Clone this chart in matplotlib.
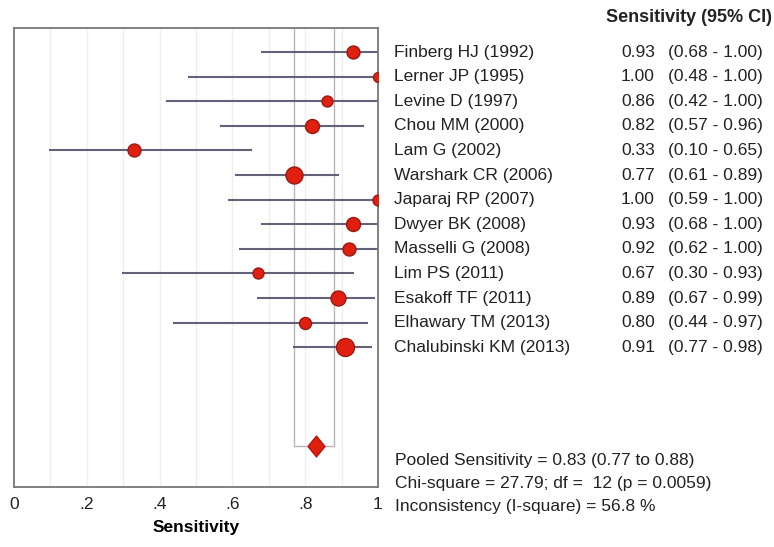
import matplotlib
matplotlib.use("Agg")
import matplotlib.pyplot as plt
from matplotlib.transforms import blended_transform_factory

plt.rcParams['font.family'] = ['Liberation Sans', 'DejaVu Sans']

# study data
studies = ["Finberg HJ (1992)", "Lerner JP (1995)", "Levine D (1997)", "Chou MM (2000)",
           "Lam G (2002)", "Warshark CR (2006)", "Japaraj RP (2007)", "Dwyer BK (2008)",
           "Masselli G (2008)", "Lim PS (2011)", "Esakoff TF (2011)", "Elhawary TM (2013)",
           "Chalubinski KM (2013)"]
sens = [0.93, 1.00, 0.86, 0.82, 0.33, 0.77, 1.00, 0.93, 0.92, 0.67, 0.89, 0.80, 0.91]
ci_low = [0.68, 0.48, 0.42, 0.57, 0.10, 0.61, 0.59, 0.68, 0.62, 0.30, 0.67, 0.44, 0.77]
ci_high = [1.00, 1.00, 1.00, 0.96, 0.65, 0.89, 1.00, 1.00, 1.00, 0.93, 0.99, 0.97, 0.98]
weight = [13, 10, 11, 14, 13, 17, 11, 14, 13, 11, 15, 12, 18]  # relative study weight

pooled = 0.83
pooled_low = 0.77
pooled_high = 0.88
stats_lines = ["Pooled Sensitivity = 0.83 (0.77 to 0.88)",
               "Chi-square = 27.79; df =  12 (p = 0.0059)",
               "Inconsistency (I-square) = 56.8 %"]

fig = plt.figure(figsize=(7.74, 5.47), dpi=100)
ax = fig.add_axes([14/774, 1-487/547, 364/774, 459/547])

pooled_row = 16
rows = list(range(len(studies)))

# light grid every 0.1
for g in [i/10 for i in range(1, 10)]:
    ax.axvline(g, color='#efefef', lw=1, zorder=0)

# pooled CI box
box_col = '#bfb2ba'
ax.plot([pooled_low, pooled_low], [-1, pooled_row], color=box_col, lw=1, zorder=1)
ax.plot([pooled_high, pooled_high], [-1, pooled_row], color=box_col, lw=1, zorder=1)
ax.plot([pooled_low, pooled_high], [pooled_row, pooled_row], color=box_col, lw=1, zorder=1)

for r, s, lo, hi, w in zip(rows, sens, ci_low, ci_high, weight):
    ax.plot([lo, hi], [r, r], color='#62627a', lw=1.5, zorder=2)
    ax.plot(s, r, 'o', ms=w/1.39, color='#e0200f', mec='#9a1a14', mew=1, zorder=3)

diamond = [(-0.82, 0), (0, 1), (0.82, 0), (0, -1), (-0.82, 0)]
ax.plot(pooled, pooled_row, marker=diamond, ms=15, color='#e0200f', mec='#b01a12', zorder=3)

ax.set_xlim(0, 1)
ax.set_ylim(17.68, -0.98)
ax.set_yticks([])
ax.set_xticks([0, 0.2, 0.4, 0.6, 0.8, 1.0])
ax.set_xticklabels(['0', '.2', '.4', '.6', '.8', '1'])
ax.tick_params(axis='x', length=0, labelsize=12.5, pad=7, colors='#222222')
ax.set_xlabel("Sensitivity", fontsize=12.5, fontweight='bold', labelpad=6)
for sp in ax.spines.values():
    sp.set_color('#777777')
    sp.set_linewidth(1.3)

# right side table
tr = blended_transform_factory(fig.transFigure, ax.transData)
fs = 12.5
for r, name, s, lo, hi in zip(rows, studies, sens, ci_low, ci_high):
    ax.text(394/774, r, name, transform=tr, fontsize=fs, va='center', ha='left', color='#222222')
    ax.text(655/774, r, f"{s:.2f}", transform=tr, fontsize=fs, va='center', ha='right', color='#222222')
    ax.text(668/774, r, f"({lo:.2f} - {hi:.2f})", transform=tr, fontsize=fs, va='center', ha='left', color='#222222')

fig.text(772/774, 1-18/547, "Sensitivity (95% CI)", fontsize=13, fontweight='bold', ha='right', va='center', color='#222222')

for i, line in enumerate(stats_lines):
    fig.text(395/774, 1-(461+22.5*i)/547, line, fontsize=fs, ha='left', va='center', color='#222222')

fig.savefig("out.png", dpi=100)
